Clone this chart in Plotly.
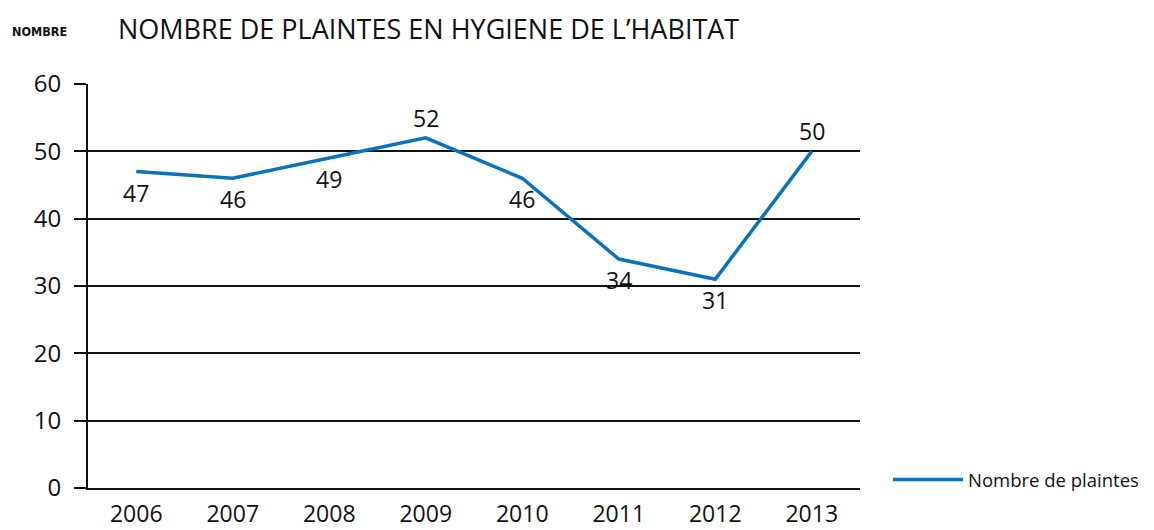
import plotly.graph_objects as go

years = ["2006", "2007", "2008", "2009", "2010", "2011", "2012", "2013"]
plaintes = [47, 46, 49, 52, 46, 34, 31, 50]
label_below = [True, True, True, False, True, True, True, False]
y_ticks = [0, 10, 20, 30, 40, 50, 60]

FONT = "Open Sans"
OFF = 8  # default page body margin
W, H = 1154 - OFF, 530 - OFF
L, R, T, B = 88 - OFF, 294, 84 - OFF, 42
PW, PH = W - L - R, H - T - B


def px_x(xpix):
    return (xpix - (L + OFF)) / PW


def px_y(ypix):
    return ((H + OFF - B) - ypix) / PH


fig = go.Figure()
fig.add_trace(go.Scatter(
    x=years, y=plaintes, mode="lines", name="Nombre de plaintes",
    line=dict(color="#0a72ba", width=3.5),
))

annotations = []
for i, (v, below) in enumerate(zip(plaintes, label_below)):
    annotations.append(dict(
        x=i, y=v, xref="x", yref="y", text=str(v), showarrow=False,
        yshift=-21 if below else 20, xanchor="center", yanchor="middle",
        font=dict(family=FONT, size=23, color="#111111")))
annotations.append(dict(
    text="<b>NOMBRE</b>", x=px_x(10), y=px_y(31), xref="paper", yref="paper",
    xanchor="left", yanchor="middle", showarrow=False,
    font=dict(family="DejaVu Sans Condensed, sans-serif",
              size=12.5, color="#111111")))

fig.update_layout(
    width=W, height=H,
    margin=dict(l=L, r=R, t=T, b=B, autoexpand=False),
    paper_bgcolor="white", plot_bgcolor="white",
    font=dict(family=FONT, color="#111111"),
    title=dict(text="NOMBRE DE PLAINTES EN HYGIENE DE L\u2019HABITAT",
               x=(118 - OFF) / W, xanchor="left", y=1 - (30 - OFF) / H, yanchor="middle",
               font=dict(family=FONT, size=27, color="#111111")),
    showlegend=True,
    legend=dict(x=px_x(888), y=px_y(480), xanchor="left", yanchor="middle",
                bgcolor="rgba(0,0,0,0)",
                font=dict(family=FONT, size=18.5, color="#111111"),
                itemwidth=70),
    annotations=annotations,
)
fig.update_xaxes(type="category", range=[-0.5, 7.5], showgrid=False,
                 showline=True, linecolor="#111111", linewidth=2,
                 ticks="", ticklabelstandoff=4, automargin=False,
                 tickfont=dict(family=FONT, size=23, color="#111111"))
fig.update_yaxes(range=[0, 60], tickvals=y_ticks, showgrid=True,
                 gridcolor="#111111", gridwidth=2, zeroline=True,
                 zerolinecolor="#111111", zerolinewidth=2,
                 showline=True, linecolor="#111111", linewidth=2,
                 ticks="outside", ticklen=12, tickwidth=2, tickcolor="#111111",
                 ticklabelstandoff=8, automargin=False,
                 tickfont=dict(family=FONT, size=24, color="#111111"))

fig.write_html("out.html")
